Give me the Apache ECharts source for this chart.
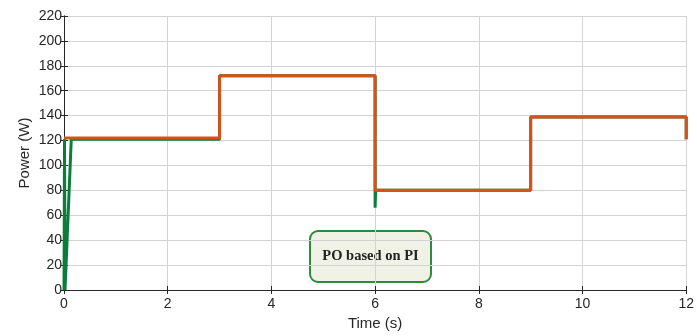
<!DOCTYPE html>
<html><head><meta charset="utf-8">
<script src="https://cdn.jsdelivr.net/npm/echarts@6/dist/echarts.min.js"></script>
<style>html,body{margin:0;padding:0;background:#fff}#c{width:697px;height:336px}</style>
</head><body><div id="c"></div>
<script>
const greenTime  = [0, 0.01, 0.02, 0.14, 3, 3, 6, 6, 6.01, 9, 9, 12, 12];
const greenPower = [0, 121, 0, 121, 121, 172, 172, 66, 80, 80, 139, 139, 121];
const orangeTime  = [0, 3, 3, 6, 6, 9, 9, 12, 12];
const orangePower = [122, 122, 172, 172, 80, 80, 139, 139, 121];
const xTicks = [0, 2, 4, 6, 8, 10, 12];
const yTicks = [0, 20, 40, 60, 80, 100, 120, 140, 160, 180, 200, 220];
const annotation = 'PO based on PI';

const zip = (a, b) => a.map((v, i) => [v, b[i]]);
const txt = '#262626';
const chart = echarts.init(document.getElementById('c'));
chart.setOption({
  animation: false,
  grid: { left: 64, right: 9, top: 16, bottom: 44 },
  xAxis: [{
    type: 'value', min: xTicks[0], max: xTicks[xTicks.length-1], interval: 2,
    name: 'Time (s)', nameLocation: 'middle', nameGap: 26,
    nameTextStyle: { fontFamily: 'Liberation Sans', fontSize: 15, color: txt },
    axisLine: { lineStyle: { color: '#262626', width: 1 } },
    axisTick: { inside: true, length: 4, lineStyle: { color: '#262626' } },
    axisLabel: { fontFamily: 'Liberation Sans', fontSize: 14, color: txt, margin: 7 },
    splitLine: { show: true, lineStyle: { color: '#d3d3d3', width: 1 } }
  }, {
    type: 'value', position: 'top', min: 0, max: 12, interval: 2,
    axisLine: { lineStyle: { color: '#262626' } },
    axisTick: { inside: true, length: 4, lineStyle: { color: '#262626' } },
    axisLabel: { show: false }, splitLine: { show: false }
  }],
  yAxis: [{
    type: 'value', min: yTicks[0], max: yTicks[yTicks.length-1], interval: 20,
    name: 'Power (W)', nameLocation: 'middle', nameGap: 32, nameRotate: 90,
    nameMoveOverlap: false,
    nameTextStyle: { fontFamily: 'Liberation Sans', fontSize: 15, color: txt },
    axisLine: { show: true, lineStyle: { color: '#262626', width: 1 } },
    axisTick: { show: true, inside: true, length: 4, lineStyle: { color: '#262626' } },
    axisLabel: { fontFamily: 'Liberation Sans', fontSize: 14, color: txt, margin: 2 },
    splitLine: { show: true, lineStyle: { color: '#d3d3d3', width: 1 } }
  }, {
    type: 'value', position: 'right', min: 0, max: 220, interval: 20,
    axisLine: { show: true, lineStyle: { color: '#262626' } },
    axisTick: { show: true, inside: true, length: 4, lineStyle: { color: '#262626' } },
    axisLabel: { show: false }, splitLine: { show: false }
  }],
  series: [{
    type: 'line', data: zip(greenTime, greenPower), showSymbol: false,
    lineStyle: { color: '#0b7d3b', width: 3 }, z: 2
  }, {
    type: 'line', data: zip(orangeTime, orangePower), showSymbol: false,
    lineStyle: { color: '#d6521a', width: 3 }, z: 3
  }],
  graphic: [{
    type: 'group', left: 309, top: 230, z: 100,
    children: [{
      type: 'rect', shape: { x: 0, y: 0, width: 121, height: 51, r: 8 },
      style: { fill: '#f1f2e6', stroke: '#2e8a3c', lineWidth: 2 }
    }, {
      type: 'text', x: 60.5, y: 25.5,
      style: { text: annotation, fontFamily: 'Liberation Serif', fontWeight: 'bold', fontSize: 14.5,
               fill: '#222', align: 'center', verticalAlign: 'middle' }
    }]
  }]
});
</script></body></html>
